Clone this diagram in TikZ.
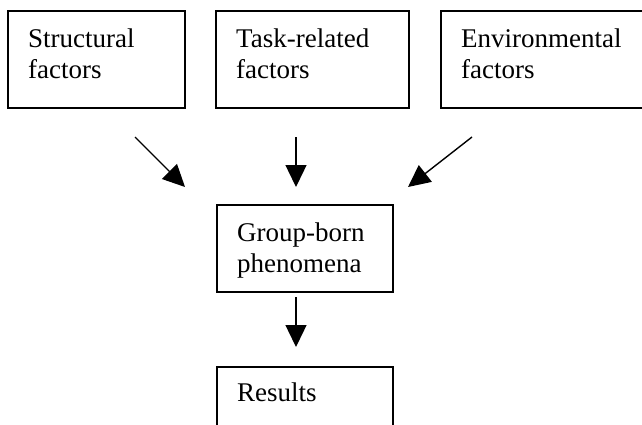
\documentclass[tikz,border=0pt]{standalone}
\usepackage{fontspec}
\setmainfont{Liberation Serif}
\usetikzlibrary{arrows.meta}
\tikzset{
  box/.style={draw=black, line width=1.6pt, rectangle, anchor=north west, inner sep=0pt},
  label/.style={anchor=north west, inner sep=0pt, align=left, font=\fontsize{27}{31}\selectfont},
  arr/.style={line width=1.4pt, -{Triangle[length=22pt,width=21pt]}}
}
\begin{document}
\begin{tikzpicture}[x=1pt,y=-1pt]
\useasboundingbox[fill=white] (0,0) rectangle (642,425);
% boxes
\node[box, minimum width=177pt, minimum height=97pt] (b1) at (7,10) {};
\node[box, minimum width=193pt, minimum height=97pt] (b2) at (215,10) {};
\node[box, minimum width=212pt, minimum height=97pt] (b3) at (440,10) {};
\node[box, minimum width=176pt, minimum height=87pt] (g) at (216,204) {};
\node[box, minimum width=176pt, minimum height=80pt] (r) at (216,366) {};
% texts
\node[label] (t1) at (28,29) {Structural\\factors};
\node[label] (t2) at (236,29) {Task-related\\factors};
\node[label] (t3) at (461,29) {Environmental\\factors};
\node[label] (tg) at (237,223) {Group-born\\phenomena};
\node[label] (tr) at (237,383) {Results};
% arrow ends
\coordinate (a1s) at (135,137);
\coordinate (a1e) at (185,187);
\coordinate (a2s) at (296,137);
\coordinate (a2e) at (296,187);
\coordinate (a3s) at (472,137);
\coordinate (a3e) at (408,187);
\coordinate (a4s) at (296,297);
\coordinate (a4e) at (296,347);
\draw[arr] (a1s) -- (a1e);
\draw[arr] (a2s) -- (a2e);
\draw[arr] (a3s) -- (a3e);
\draw[arr] (a4s) -- (a4e);
\end{tikzpicture}
\end{document}
